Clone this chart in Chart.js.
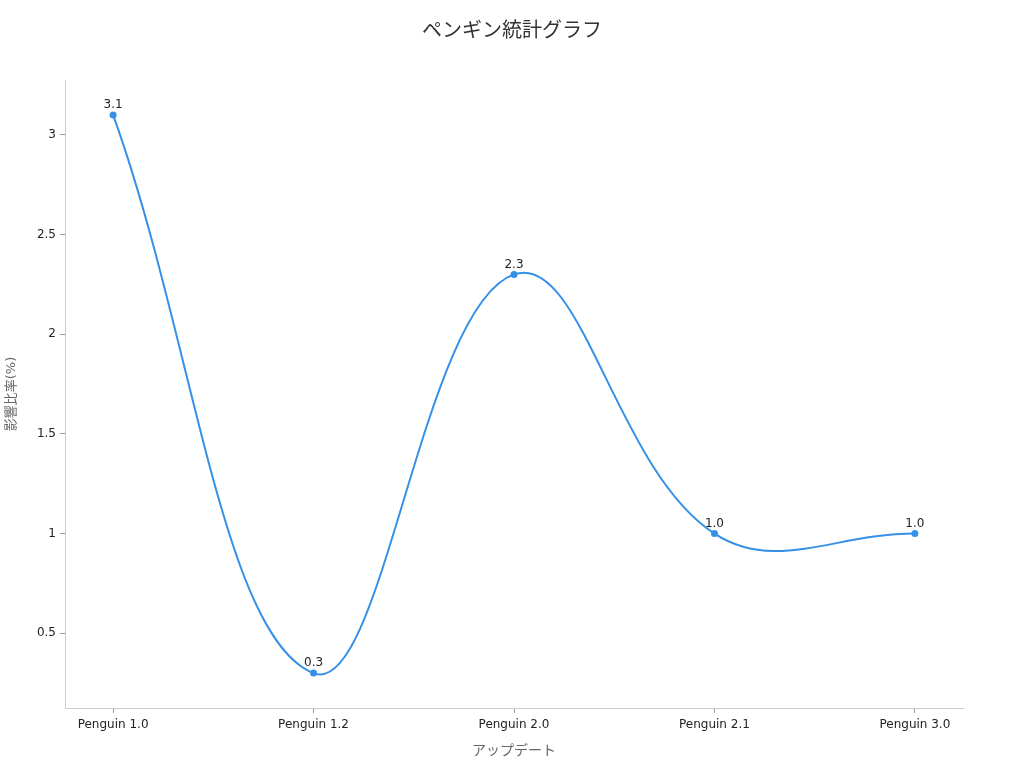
<!DOCTYPE html>
<html>
<head>
<meta charset="utf-8">
<script src="https://cdn.jsdelivr.net/npm/chart.js@4"></script>
<style>
  html, body { margin: 0; padding: 0; background: #fff; }
  #wrap { width: 1024px; height: 768px; }
</style>
</head>
<body>
<div id="wrap"><canvas id="penguinChart" width="1024" height="768"></canvas></div>
<script>
// データ
const chartTitle = 'ペンギン統計グラフ';
const updates = ['Penguin 1.0', 'Penguin 1.2', 'Penguin 2.0', 'Penguin 2.1', 'Penguin 3.0'];
const impactRates = [3.1, 0.3, 2.3, 1.0, 1.0];
const yTicks = [0.5, 1, 1.5, 2, 2.5, 3];

const FONT = '"DejaVu Sans", "Noto Sans CJK JP", sans-serif';
const LINE_COLOR = '#3590e6';

// タイトル（キャンバス中央）と点の上の値
const extras = {
    id: 'extras',
    afterDraw(chart) {
        const ctx = chart.ctx;
        ctx.save();
        ctx.font = '20px ' + FONT;
        ctx.fillStyle = '#333';
        ctx.textAlign = 'center';
        ctx.textBaseline = 'middle';
        ctx.fillText(chartTitle, chart.width / 2, 32);

        ctx.font = '12px ' + FONT;
        ctx.fillStyle = '#222';
        ctx.textBaseline = 'bottom';
        chart.getDatasetMeta(0).data.forEach((pt, i) => {
            ctx.fillText(impactRates[i].toFixed(1), pt.x, pt.y - 4);
        });
        ctx.restore();
    }
};

new Chart(document.getElementById('penguinChart'), {
    type: 'line',
    data: {
        datasets: [{
            data: impactRates.map((v, i) => ({ x: i, y: v })),
            borderColor: LINE_COLOR,
            backgroundColor: LINE_COLOR,
            borderWidth: 2,
            pointRadius: 2.5,
            pointHoverRadius: 3,
            tension: 0.4,
            fill: false
        }]
    },
    options: {
        responsive: false,
        animation: false,
        layout: { padding: { left: 0, right: 61, top: 80, bottom: 4 } },
        plugins: {
            legend: { display: false },
            tooltip: { enabled: false },
            title: { display: false }
        },
        scales: {
            x: {
                type: 'linear',
                min: -0.24,
                max: 4.24,
                afterBuildTicks: s => { s.ticks = updates.map((_, i) => ({ value: i })); },
                ticks: {
                    callback: v => updates[v],
                    color: '#222',
                    font: { family: FONT, size: 12 },
                    maxRotation: 0,
                    padding: 5
                },
                grid: { display: true, drawOnChartArea: false, drawTicks: true, tickLength: 5, color: '#999' },
                border: { display: true, color: '#ccc' },
                title: {
                    display: true,
                    text: 'アップデート',
                    color: '#666',
                    font: { family: FONT, size: 14 },
                    padding: { top: 10 }
                },
                afterFit: s => { s.height = 56; }
            },
            y: {
                type: 'linear',
                min: 0.125,
                max: 3.275,
                afterBuildTicks: s => { s.ticks = yTicks.map(v => ({ value: v })); },
                ticks: {
                    callback: v => String(v),
                    color: '#222',
                    font: { family: FONT, size: 12 },
                    padding: 4
                },
                grid: { display: true, drawOnChartArea: false, drawTicks: true, tickLength: 5, color: '#999' },
                border: { display: true, color: '#ccc' },
                title: {
                    display: true,
                    text: '影響比率(%)',
                    color: '#666',
                    font: { family: FONT, size: 13 },
                    padding: { bottom: 4 }
                },
                afterFit: s => { s.width = 65; }
            }
        }
    },
    plugins: [extras]
});
</script>
</body>
</html>
